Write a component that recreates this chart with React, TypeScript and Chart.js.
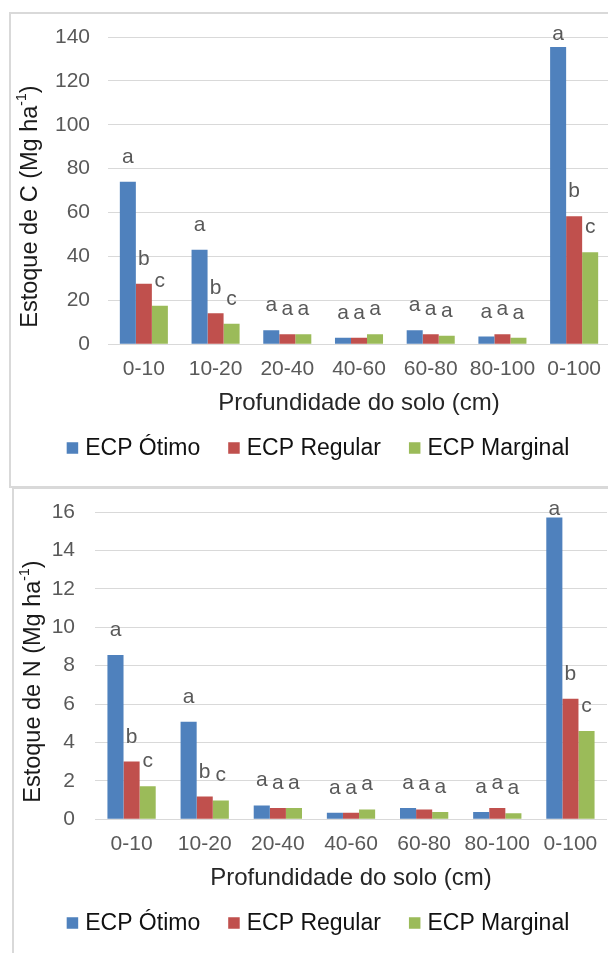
import { useRef, useEffect } from "react";
import { Chart, registerables } from "chart.js";

Chart.register(...registerables);

Chart.defaults.font.family = "'Liberation Sans', Arial, sans-serif";

const depths = ["0-10", "10-20", "20-40", "40-60", "60-80", "80-100", "0-100"];
const seriesNames = ["ECP Ótimo", "ECP Regular", "ECP Marginal"];
const seriesColors = ["#4F81BD", "#C0504D", "#9BBB59"];

const carbonOtimo = [74, 43.1, 6.4, 2.9, 6.4, 3.5, 135.4];
const carbonRegular = [27.5, 14.1, 4.5, 2.9, 4.5, 4.5, 58.3];
const carbonMarginal = [17.5, 9.3, 4.5, 4.5, 3.9, 2.9, 41.9];

const nitrogenOtimo = [8.55, 5.07, 0.72, 0.33, 0.58, 0.38, 15.72];
const nitrogenRegular = [3.0, 1.18, 0.58, 0.33, 0.51, 0.58, 6.27];
const nitrogenMarginal = [1.72, 0.98, 0.58, 0.51, 0.38, 0.31, 4.6];

const lettersOtimo = ["a", "a", "a", "a", "a", "a", "a"];
const lettersRegular = ["b", "b", "a", "a", "a", "a", "b"];
const lettersMarginal = ["c", "c", "a", "a", "a", "a", "c"];

const carbonTicks = { max: 140, step: 20 };
const nitrogenTicks = { max: 16, step: 2 };

// letters above each bar
const letterPlugin = {
  id: "letters",
  afterDatasetsDraw(chart: any) {
    const { ctx, chartArea } = chart;
    ctx.save();
    ctx.font = "21px 'Liberation Sans', Arial, sans-serif";
    ctx.fillStyle = "#595959";
    ctx.textAlign = "center";
    ctx.textBaseline = "alphabetic";
    chart.data.datasets.forEach((ds: any, i: number) => {
      chart.getDatasetMeta(i).data.forEach((bar: any, j: number) => {
        const y = Math.max(bar.y - 19, chartArea.top + 3);
        ctx.fillText(ds.letters[j], bar.x, y);
      });
    });
    ctx.restore();
  },
};

// rotated y title with superscript, plus legend drawn under the x title
const decorPlugin = {
  id: "decor",
  afterDraw(chart: any, _args: any, opts: any) {
    const { ctx, chartArea } = chart;
    ctx.save();
    const big = "23.5px 'Liberation Sans', Arial, sans-serif";
    const small = "14px 'Liberation Sans', Arial, sans-serif";
    ctx.font = big;
    const w1 = ctx.measureText(opts.yTitle).width;
    const w3 = ctx.measureText(")").width;
    ctx.font = small;
    const w2 = ctx.measureText("-1").width;
    const total = w1 + w2 + w3;
    ctx.translate(opts.yTitleX, (chartArea.top + chartArea.bottom) / 2 + 16);
    ctx.rotate(-Math.PI / 2);
    ctx.fillStyle = "#1a1a1a";
    ctx.textBaseline = "middle";
    ctx.textAlign = "left";
    let x = -total / 2;
    ctx.font = big;
    ctx.fillText(opts.yTitle, x, 0);
    x += w1;
    ctx.font = small;
    ctx.fillText("-1", x, -8);
    x += w2;
    ctx.font = big;
    ctx.fillText(")", x, 0);
    ctx.restore();

    // legend
    ctx.save();
    ctx.font = "23px 'Liberation Sans', Arial, sans-serif";
    ctx.textBaseline = "middle";
    ctx.textAlign = "left";
    const box = 11.5;
    const gap = 7;
    const itemGap = 28;
    const widths = seriesNames.map((n) => ctx.measureText(n).width);
    const legendW =
      widths.reduce((a, b) => a + b + box + gap, 0) + itemGap * (seriesNames.length - 1);
    let lx = opts.legendX - legendW / 2;
    const ly = opts.legendY;
    seriesNames.forEach((name, i) => {
      ctx.fillStyle = seriesColors[i];
      ctx.fillRect(lx, ly - box / 2, box, box);
      ctx.fillStyle = "#111";
      ctx.fillText(name, lx + box + gap, ly + 1);
      lx += box + gap + widths[i] + itemGap;
    });
    ctx.restore();
  },
};

type StockProps = {
  values: number[][];
  ticks: { max: number; step: number };
  yTitle: string;
  catPct: number;
  padLeft: number;
  axisWidth: number;
  tickPad: number;
  legendX: number;
  left: number;
  top: number;
  width: number;
};

const StockChart = (p: StockProps) => {
  const chartRef = useRef<HTMLCanvasElement>(null);
  const chartInstance = useRef<Chart | null>(null);

  useEffect(() => {
    if (!chartRef.current) return;
    if (chartInstance.current) chartInstance.current.destroy();
    const ctx = chartRef.current.getContext("2d");
    if (!ctx) return;

    const letters = [lettersOtimo, lettersRegular, lettersMarginal];

    chartInstance.current = new Chart(ctx, {
      type: "bar",
      data: {
        labels: depths,
        datasets: p.values.map((v, i) => ({
          label: seriesNames[i],
          data: v,
          backgroundColor: seriesColors[i],
          categoryPercentage: p.catPct,
          barPercentage: 1,
          letters: letters[i],
        })) as any,
      },
      options: {
        animation: false,
        responsive: true,
        maintainAspectRatio: false,
        layout: { padding: { left: p.padLeft, top: 24, right: 0, bottom: 69 } },
        plugins: {
          legend: { display: false },
          tooltip: { enabled: false },
          decor: { yTitle: p.yTitle, yTitleX: 20.5, legendX: p.legendX, legendY: 435 },
        } as any,
        scales: {
          x: {
            grid: { display: false, drawTicks: false },
            border: { display: false },
            ticks: { color: "#595959", font: { size: 21 }, padding: 12.4, maxRotation: 0 },
            title: {
              display: true,
              text: "Profundidade do solo (cm)",
              color: "#262626",
              font: { size: 24 },
              padding: { top: -5, bottom: 0 },
            },
            afterFit: (scale: any) => {
              scale.paddingLeft = 0;
              scale.paddingRight = 0;
            },
          },
          y: {
            min: 0,
            max: p.ticks.max,
            border: { display: false },
            grid: { color: "#D9D9D9", lineWidth: 1, drawTicks: false },
            ticks: {
              stepSize: p.ticks.step,
              color: "#595959",
              font: { size: 21 },
              padding: p.tickPad,
            },
            afterFit: (scale: any) => {
              scale.width = p.axisWidth;
              scale.paddingTop = 0;
              scale.paddingBottom = 0;
            },
          },
        },
      },
      plugins: [letterPlugin, decorPlugin],
    });

    return () => {
      if (chartInstance.current) {
        chartInstance.current.destroy();
        chartInstance.current = null;
      }
    };
  }, []);

  return (
    <div
      style={{
        position: "absolute",
        left: p.left,
        top: p.top,
        width: p.width,
        height: 474,
      }}
    >
      <canvas ref={chartRef} role="img" aria-label={p.yTitle}></canvas>
    </div>
  );
};

const frame = {
  position: "absolute" as const,
  boxSizing: "border-box" as const,
  border: "2px solid #D9D9D9",
  width: 700,
};

const App = () => {
  useEffect(() => {
    document.body.style.margin = "0";
  }, []);

  return (
    <div
      style={{
        position: "fixed",
        left: 0,
        top: 0,
        width: 608,
        height: 953,
        overflow: "hidden",
        background: "#fff",
      }}
    >
      <div style={{ ...frame, left: 9, top: 12, height: 476 }} />
      <div style={{ ...frame, left: 12, top: 487, height: 600 }} />
      <StockChart
        values={[carbonOtimo, carbonRegular, carbonMarginal]}
        ticks={carbonTicks}
        yTitle="Estoque de C (Mg ha"
        catPct={0.67}
        padLeft={45}
        axisWidth={53}
        tickPad={18}
        legendX={308}
        left={10}
        top={13}
        width={600}
      />
      <StockChart
        values={[nitrogenOtimo, nitrogenRegular, nitrogenMarginal]}
        ticks={nitrogenTicks}
        yTitle="Estoque de N (Mg ha"
        catPct={0.66}
        padLeft={39}
        axisWidth={43}
        tickPad={20}
        legendX={305}
        left={13}
        top={488}
        width={594}
      />
    </div>
  );
};

export default App;
